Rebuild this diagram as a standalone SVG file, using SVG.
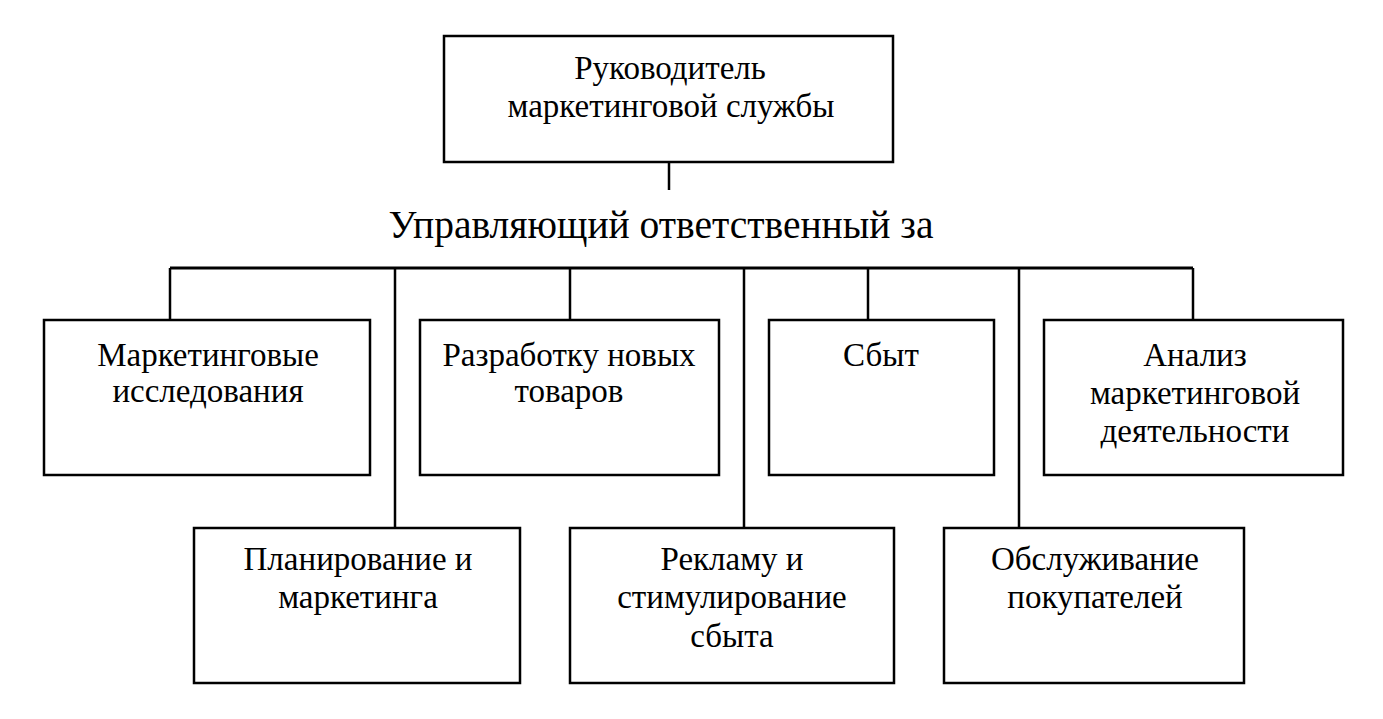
<svg xmlns="http://www.w3.org/2000/svg" width="1383" height="719" viewBox="0 0 1383 719">
<style>
.box{fill:#fff;stroke:#000;stroke-width:2.5}
.ln{stroke:#000;stroke-width:2.5;fill:none}
.bus{stroke:#000;stroke-width:3;fill:none}
text{font-family:"Liberation Serif","Times New Roman",serif;font-size:33px;fill:#000;text-anchor:middle}
.title{font-size:39.5px}
</style>
<rect width="1383" height="719" fill="#fff"/>
<g id="connectors">
<line class="ln" x1="669" y1="162" x2="669" y2="190"/>
<line class="bus" x1="170" y1="268" x2="1193" y2="268"/>
<line class="ln" x1="170" y1="268" x2="170" y2="320"/>
<line class="ln" x1="395" y1="268" x2="395" y2="528"/>
<line class="ln" x1="570" y1="268" x2="570" y2="320"/>
<line class="ln" x1="744" y1="268" x2="744" y2="528"/>
<line class="ln" x1="868" y1="268" x2="868" y2="320"/>
<line class="ln" x1="1019" y1="268" x2="1019" y2="528"/>
<line class="ln" x1="1193" y1="268" x2="1193" y2="320"/>
</g>
<g id="head">
<rect class="box" x="444" y="36" width="449" height="126"/>
<text x="670" y="79">Руководитель</text>
<text x="671" y="117">маркетинговой службы</text>
</g>
<g id="label">
<text class="title" x="661" y="238">Управляющий ответственный за</text>
</g>
<g id="n1">
<rect class="box" x="44" y="320" width="326" height="155"/>
<text x="208" y="366">Маркетинговые</text>
<text x="208" y="402">исследования</text>
</g>
<g id="n2">
<rect class="box" x="420" y="320" width="299" height="155"/>
<text x="569" y="366">Разработку новых</text>
<text x="569" y="402">товаров</text>
</g>
<g id="n3">
<rect class="box" x="769" y="320" width="225" height="155"/>
<text x="881" y="366">Сбыт</text>
</g>
<g id="n4">
<rect class="box" x="1044" y="320" width="299" height="155"/>
<text x="1195" y="366">Анализ</text>
<text x="1195" y="404">маркетинговой</text>
<text x="1195" y="442">деятельности</text>
</g>
<g id="n5">
<rect class="box" x="194" y="528" width="326" height="155"/>
<text x="358" y="570">Планирование и</text>
<text x="358" y="608">маркетинга</text>
</g>
<g id="n6">
<rect class="box" x="570" y="528" width="324" height="155"/>
<text x="732" y="570">Рекламу и</text>
<text x="732" y="608">стимулирование</text>
<text x="732" y="647">сбыта</text>
</g>
<g id="n7">
<rect class="box" x="944" y="528" width="300" height="155"/>
<text x="1095" y="570">Обслуживание</text>
<text x="1095" y="608">покупателей</text>
</g>
</svg>
